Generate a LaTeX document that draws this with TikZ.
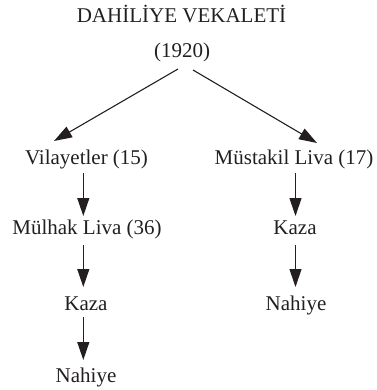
\documentclass[tikz,border=0pt]{standalone}
\usepackage{fontspec}
\setmainfont{Liberation Serif}
\newfontfamily\tnr{Liberation Serif}
\usetikzlibrary{arrows.meta,calc}
\definecolor{ink}{HTML}{231F20}
\begin{document}
\begin{tikzpicture}[x=1pt,y=-1pt,
  lbl/.style={anchor=base,inner sep=0pt,text=ink,font=\tnr\fontsize{21}{25}\selectfont},
  arr/.style={draw=ink,line width=1.1pt,-{Triangle[length=18pt,width=12pt]}}]
\useasboundingbox (0,0) rectangle (376,390);
\node[lbl] (title) at (181.5,23) {DAHİLİYE VEKALETİ};
\node[lbl] (year) at (182,58) {(1920)};
\node[lbl] (vil) at (86.5,164.5) {Vilayetler (15)};
\node[lbl] (mus) at (294,164.5) {Müstakil Liva (17)};
\node[lbl] (mul) at (87,234) {Mülhak Liva (36)};
\node[lbl] (kazaR) at (295,234) {Kaza};
\node[lbl] (kazaL) at (86,310) {Kaza};
\node[lbl] (nahR) at (296,310) {Nahiye};
\node[lbl] (nahL) at (86,382) {Nahiye};
\draw[arr] ($(year.base)+(-4,11)$) -- ($(vil.base)+(-32.5,-23.5)$);
\draw[arr] ($(year.base)+(11,12)$) -- ($(mus.base)+(23,-21.5)$);
\draw[arr] ($(vil.base)+(-3.2,8.5)$) -- ($(mul.base)+(-3.7,-18)$);
\draw[arr] ($(mul.base)+(-3.7,11)$) -- ($(kazaL.base)+(-2.7,-23)$);
\draw[arr] ($(kazaL.base)+(-2.7,7)$) -- ($(nahL.base)+(-2.7,-22)$);
\draw[arr] ($(mus.base)+(1.5,8.5)$) -- ($(kazaR.base)+(0.5,-18)$);
\draw[arr] ($(kazaR.base)+(0.5,11)$) -- ($(nahR.base)+(-0.5,-23)$);
\end{tikzpicture}
\end{document}
